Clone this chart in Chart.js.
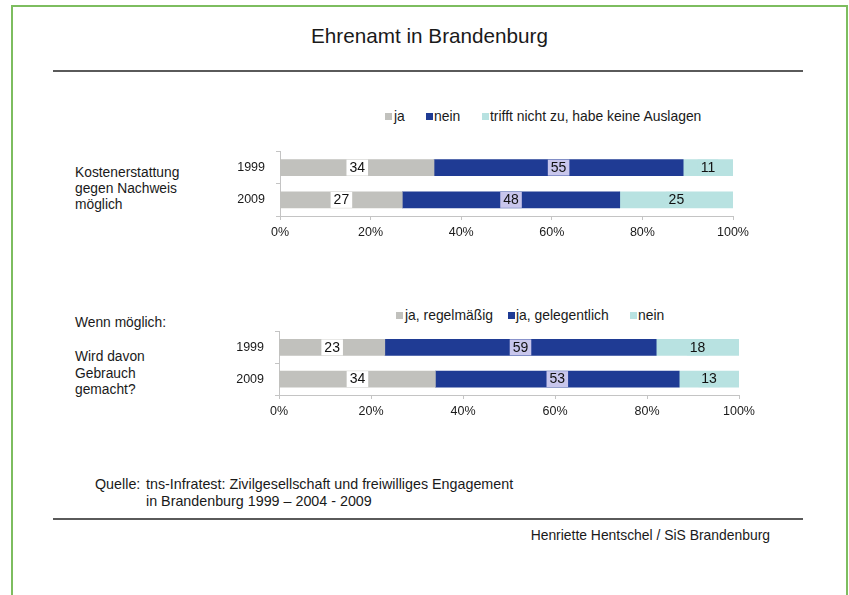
<!DOCTYPE html>
<html>
<head>
<meta charset="utf-8">
<script src="https://cdn.jsdelivr.net/npm/chart.js@4"></script>
<style>
  body { margin: 0; background: #fff; width: 849px; height: 595px; position: relative; overflow: hidden;
         font-family: "Liberation Sans", Arial, sans-serif; color: #1a1a1a; }
  .abs { position: absolute; white-space: nowrap; }
  .frame { position: absolute; left: 11px; top: 5px; width: 833px; height: 620px;
           border: 2px solid #7dbd5f; border-bottom: none; }
  .rule { position: absolute; left: 53px; width: 750px; height: 2px; background: #5a5a5a; }
  .legend { position: absolute; font-size: 13.9px; line-height: 16px; height: 16px; width: 849px; }
  .legend span.sw { position: absolute; top: 5px; width: 7px; height: 7px; }
  .legend span.tx { position: absolute; top: 0; white-space: nowrap; }
  canvas { position: absolute; }
</style>
</head>
<body>
<div class="frame"></div>
<div class="abs" style="left:129.5px;width:600px;text-align:center;top:24px;line-height:24px;font-size:20.7px;">Ehrenamt in Brandenburg</div>
<div class="rule" style="top:70px;"></div>

<div id="legend1" class="legend" style="left:0;top:108px;"></div>
<div class="abs" style="left:75px;top:165px;font-size:13.8px;line-height:16px;">Kostenerstattung<br>gegen Nachweis<br>möglich</div>
<canvas id="chart1" width="580" height="111" style="left:180px;top:133px;width:580px;height:111px;"></canvas>

<div id="legend2" class="legend" style="left:0;top:307px;"></div>
<div class="abs" style="left:75px;top:315px;font-size:13.8px;line-height:16px;">Wenn möglich:</div>
<div class="abs" style="left:75px;top:349px;font-size:13.8px;line-height:16.5px;">Wird davon<br>Gebrauch<br>gemacht?</div>
<canvas id="chart2" width="587" height="110" style="left:179px;top:313px;width:587px;height:110px;"></canvas>

<div class="abs" style="left:95px;top:476px;font-size:14.3px;line-height:16.5px;">Quelle:</div>
<div class="abs" style="left:146px;top:476px;font-size:14.3px;line-height:16.5px;">tns-Infratest: Zivilgesellschaft und freiwilliges Engagement<br>in Brandenburg 1999 – 2004 - 2009</div>
<div class="rule" style="top:518px;"></div>
<div class="abs" style="right:79px;top:527px;font-size:13.9px;line-height:16px;">Henriette Hentschel / SiS Brandenburg</div>

<script>
const years = ["1999", "2009"];
const xTicks = [0, 20, 40, 60, 80, 100];

// Kostenerstattung gegen Nachweis möglich
const labels1 = ["ja", "nein", "trifft nicht zu, habe keine Auslagen"];
const ja1 = [34, 27];
const nein1 = [55, 48];
const trifft1 = [11, 25];

// Wenn möglich: Wird davon Gebrauch gemacht?
const labels2 = ["ja, regelmäßig", "ja, gelegentlich", "nein"];
const regel2 = [23, 34];
const gelegentlich2 = [59, 53];
const nein2 = [18, 13];

const colors = ["#c1c1bd", "#1f3b94", "#b8e2e1"];
const labelBoxes = ["#ffffff", "#c8c6ec", "#b8e2e1"];

const FONT = '"Liberation Sans", Arial, sans-serif';

// number in the middle of each segment, on a small box
const boxLabels = {
  id: "boxLabels",
  afterDatasetsDraw(chart) {
    const { ctx } = chart;
    ctx.save();
    ctx.font = "14px " + FONT;
    ctx.textAlign = "center";
    ctx.textBaseline = "middle";
    chart.data.datasets.forEach((ds, i) => {
      chart.getDatasetMeta(i).data.forEach((bar, j) => {
        const v = String(ds.data[j]);
        const x = (bar.x + bar.base) / 2;
        const w = ctx.measureText(v).width + 6;
        ctx.fillStyle = labelBoxes[i];
        ctx.fillRect(x - w / 2, bar.y - bar.height / 2, w, bar.height);
        ctx.fillStyle = "#111";
        ctx.fillText(v, x, bar.y + 0.5);
      });
    });
    ctx.restore();
  },
};

function makeChart(id, names, series) {
  return new Chart(document.getElementById(id), {
    type: "bar",
    data: {
      labels: years,
      datasets: series.map((s, i) => ({
        label: names[i],
        data: s,
        backgroundColor: colors[i],
        borderWidth: 0,
        barThickness: 16,
      })),
    },
    options: {
      indexAxis: "y",
      responsive: false,
      animation: false,
      layout: { padding: { left: 0, right: 27, top: 10, bottom: 0 } },
      plugins: { legend: { display: false }, tooltip: { enabled: false } },
      scales: {
        x: {
          stacked: true,
          min: 0,
          max: 100,
          afterFit: (s) => { s.height = 28; },
          afterBuildTicks: (s) => { s.ticks = xTicks.map((v) => ({ value: v })); },
          ticks: {
            padding: 5,
            color: "#1a1a1a",
            font: { family: FONT, size: 12.5 },
            callback: (v) => v + "%",
          },
          grid: { drawOnChartArea: false, tickLength: 4, color: "#c4c4c4" },
          border: { color: "#c4c4c4" },
        },
        y: {
          stacked: true,
          afterFit: (s) => { s.width = 100; },
          ticks: { padding: 11, color: "#1a1a1a", font: { family: FONT, size: 12.5 } },
          grid: { drawOnChartArea: false, tickLength: 4, color: "#c4c4c4" },
          border: { color: "#c4c4c4" },
        },
      },
    },
    plugins: [boxLabels],
  });
}

function makeLegend(id, names, pos) {
  const el = document.getElementById(id);
  el.innerHTML = names
    .map((n, i) =>
      `<span class="sw" style="left:${pos[i][0]}px;background:${colors[i]}"></span>` +
      `<span class="tx" style="left:${pos[i][1]}px">${n}</span>`)
    .join("");
}

makeChart("chart1", labels1, [ja1, nein1, trifft1]);
makeChart("chart2", labels2, [regel2, gelegentlich2, nein2]);
makeLegend("legend1", labels1, [[385, 394], [426, 434], [482, 490]]);
makeLegend("legend2", labels2, [[396, 405], [508, 516], [630, 638]]);
</script>
</body>
</html>
